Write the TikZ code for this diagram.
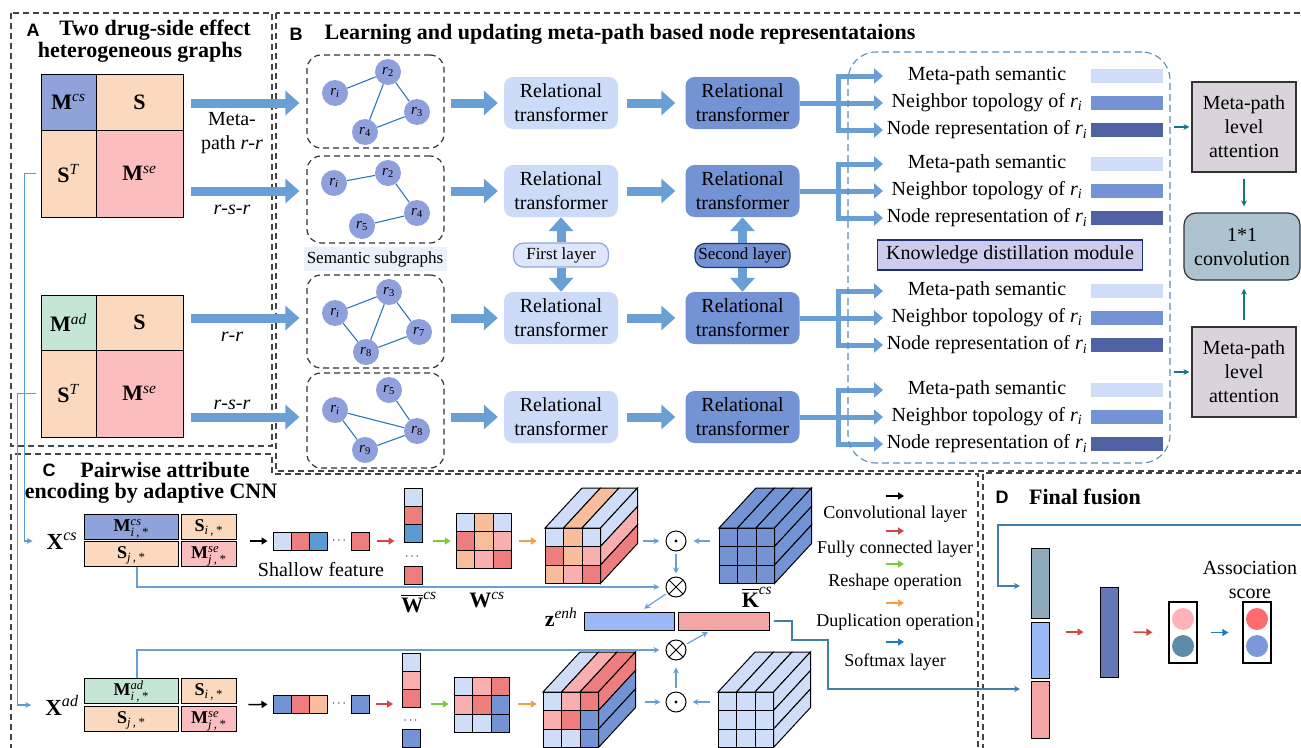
\documentclass[tikz,border=0pt]{standalone}
\usepackage{fontspec}
\setmainfont{Liberation Serif}
\newfontfamily\panelfont{Liberation Sans}
\usepackage{amsmath}
\usetikzlibrary{positioning,arrows.meta,calc}
\definecolor{panel}{HTML}{444444}
\definecolor{arrblue}{HTML}{6A9FD6}
\definecolor{tlight}{HTML}{CCDCF8}
\definecolor{tdark}{HTML}{7393D4}
\definecolor{nodeblue}{HTML}{8FA0DC}
\definecolor{edgeblue}{HTML}{2E75C0}
\definecolor{mcs}{HTML}{8FA3DA}
\definecolor{peach}{HTML}{FAD9BE}
\definecolor{rose}{HTML}{FBBDBD}
\definecolor{mint}{HTML}{C5E6D4}
\definecolor{barlight}{HTML}{CFDDF8}
\definecolor{barmid}{HTML}{7393D4}
\definecolor{bardark}{HTML}{4F61A3}
\definecolor{kdfill}{HTML}{CCCCEE}
\definecolor{kdline}{HTML}{1F2F6F}
\definecolor{attfill}{HTML}{DAD3DC}
\definecolor{convfill}{HTML}{AEC3D0}
\definecolor{tealarr}{HTML}{1A7384}
\definecolor{kdash}{HTML}{5B8DB8}
\definecolor{clb}{HTML}{CFDDF8}
\definecolor{cpe}{HTML}{F8BE9C}
\definecolor{cre}{HTML}{EE7E7E}
\definecolor{cpi}{HTML}{F9AFAF}
\definecolor{cbl}{HTML}{7393D4}
\definecolor{cmb}{HTML}{5B9BD5}
\definecolor{zblue}{HTML}{9BB7F5}
\definecolor{zred}{HTML}{F4A5A5}
\definecolor{fgray}{HTML}{8FAABB}
\definecolor{fdark}{HTML}{6677B8}
\definecolor{dpink}{HTML}{FFB3B8}
\definecolor{dteal}{HTML}{5E8CA8}
\definecolor{dred}{HTML}{FF6B6E}
\definecolor{dblue}{HTML}{7B98DA}
\definecolor{steel}{HTML}{3F7FA8}
\definecolor{linkblue}{HTML}{5B9BD5}
\definecolor{fcred}{HTML}{D64545}
\definecolor{rsgreen}{HTML}{7CCB3A}
\definecolor{duporange}{HTML}{F59D4C}
\definecolor{smblue}{HTML}{1E7BC8}
\definecolor{semfill}{HTML}{EAF1FB}
\definecolor{flfill}{HTML}{DDE6FA}
\definecolor{flline}{HTML}{8FA8DE}
\definecolor{slline}{HTML}{1F3864}
\newcommand{\fbody}{\fontsize{20}{24}\selectfont}
\newcommand{\ftitle}{\fontsize{22}{26}\selectfont\bfseries}
\newcommand{\fleg}{\fontsize{18}{20}\selectfont}
\newcommand{\fsmall}{\fontsize{17}{19}\selectfont}
\newcommand{\fletter}{\panelfont\fontsize{18}{20}\selectfont\bfseries}
\newcommand{\fnode}{\fontsize{15}{15}\selectfont}
\newcommand{\fmat}{\fontsize{22}{24}\selectfont}
\newcommand{\fblk}{\fontsize{18}{20}\selectfont}
\newcommand{\rsub}[1]{\textit{r}\textsubscript{#1}}
\newcommand{\gridnine}[3]{%
  \foreach \cc [count=\k from 0] in {#3}{%
    \pgfmathtruncatemacro\ridx{\k/3}%
    \pgfmathtruncatemacro\cidx{\k-3*\ridx}%
    \filldraw[fill=\cc,draw=black,line width=1pt] ({#1+\cidx*18.5},{#2+\ridx*18.5}) rectangle ++(18.5,18.5);}}
\newcommand{\cubeat}[5]{%
  \gridnine{#1}{#2}{#3}%
  \foreach \cc [count=\k from 0] in {#4}{%
    \filldraw[fill=\cc,draw=black,line width=1pt] ({#1+\k*18.5},#2) -- ++(18.5,0) -- ++(37,-40) -- ++(-18.5,0) -- cycle;}%
  \foreach \cc [count=\k from 0] in {#5}{%
    \filldraw[fill=\cc,draw=black,line width=1pt] ({#1+55.5},{#2+\k*18.5}) -- ++(0,18.5) -- ++(37,-40) -- ++(0,-18.5) -- cycle;}}

\begin{document}
\begin{tikzpicture}[x=1pt,y=-1pt,
  panelbox/.style={draw=panel,line width=1.2pt,dash pattern=on 6pt off 4pt},
  plet/.style={font=\fletter,inner sep=0pt},
  ptitle/.style={font=\ftitle,inner sep=0pt},
  lab/.style={font=\fbody,inner sep=0pt,align=center},
  mcell/.style={draw=black,line width=1pt,inner sep=0pt,font=\fmat},
  fat/.style={draw=arrblue,line width=9pt,-{Triangle[length=14pt,width=24pt]}},
  trunk/.style={draw=arrblue,line width=5pt},
  branch/.style={draw=arrblue,line width=5pt,-{Triangle[length=9pt,width=15pt]}},
  subbox/.style={draw=black!80,line width=1.2pt,dash pattern=on 6pt off 4pt,rounded corners=14pt,inner sep=0pt},
  rn/.style={circle,fill=nodeblue,minimum size=26pt,inner sep=0pt,font=\fnode},
  gedge/.style={draw=edgeblue,line width=1.1pt},
  rtA/.style={rounded corners=9pt,fill=tlight,minimum width=114pt,minimum height=52pt,align=center,font=\fbody,inner sep=0pt},
  rtB/.style={rtA,fill=tdark},
  flbox/.style={draw=flline,fill=flfill,line width=1.2pt,rounded corners=10pt,minimum width=95pt,minimum height=24pt,inner sep=0pt,font=\fsmall},
  slbox/.style={flbox,draw=slline,fill=tdark},
  semlab/.style={fill=semfill,minimum width=143pt,minimum height=24pt,inner sep=0pt,font=\fsmall},
  bar/.style={minimum width=72pt,minimum height=14pt,inner sep=0pt},
  kdbox/.style={draw=kdash,line width=1.1pt,dash pattern=on 7pt off 4pt,rounded corners=28pt,inner sep=0pt},
  kdm/.style={draw=kdline,fill=kdfill,line width=1.4pt,minimum width=265pt,minimum height=30pt,inner sep=0pt,font=\fbody},
  attbox/.style={draw=black!80,fill=attfill,line width=1.2pt,minimum width=104pt,minimum height=90pt,align=center,inner sep=0pt,font=\fbody},
  convbox/.style={attbox,fill=convfill,rounded corners=12pt,minimum width=116pt,minimum height=67pt},
  tarr/.style={draw=tealarr,line width=1.3pt,-{Stealth[length=6pt,width=6pt]}},
  link/.style={draw=linkblue,line width=1.2pt,-{Stealth[length=6pt,width=6pt]}},
  bcell/.style={draw=black,line width=1pt,inner sep=0pt,minimum height=25pt,text height=12pt,text depth=2pt,font=\fblk},
  xl/.style={inner sep=0pt,font=\fontsize{23}{24}\selectfont},
  wl/.style={inner sep=0pt,font=\fontsize{22}{24}\selectfont},
  sq/.style={draw=black,line width=1pt,minimum size=18pt,inner sep=0pt},
  dots/.style={inner sep=0pt,font=\fontsize{12}{12}\selectfont},
  gridbox/.style={minimum size=55.5pt,inner sep=0pt},
  zbar/.style={draw=black,line width=1pt,minimum height=18pt,inner sep=0pt},
  karr/.style={draw=black,line width=1.5pt,-{Triangle[length=6pt,width=7pt]}},
  rarr/.style={karr,draw=fcred,fill=fcred},
  garr/.style={karr,draw=rsgreen,fill=rsgreen},
  oarr/.style={karr,draw=duporange,fill=duporange},
  barr/.style={karr,draw=smblue,fill=smblue},
  sarr/.style={draw=arrblue,line width=1.2pt,-{Stealth[length=6pt,width=6pt]}},
  odot/.style={circle,draw=black,line width=1pt,minimum size=20pt,inner sep=0pt,
    path picture={\fill (path picture bounding box.center) circle (1.7pt);}},
  otimes/.style={circle,draw=black,line width=1pt,minimum size=20pt,inner sep=0pt,
    path picture={\draw[line width=1pt] (path picture bounding box.north west) -- (path picture bounding box.south east)
      (path picture bounding box.north east) -- (path picture bounding box.south west);}},
  fline/.style={draw=steel,line width=1.3pt,-{Stealth[length=6pt,width=6pt]}},
  fcol/.style={draw=black,line width=1pt,minimum width=18pt,inner sep=0pt},
  sbox/.style={draw=black,line width=1.2pt,minimum width=28pt,minimum height=61pt,inner sep=0pt},
  dot/.style={circle,minimum size=22pt,inner sep=0pt}
]
\useasboundingbox (0,0) rectangle (1301,747);
\clip (0,0) rectangle (1301,747);

\draw[panelbox] (11,13) rectangle (272,446);
\draw[panelbox] (276,13) rectangle (1320,471);
\draw[panelbox] (11,760) -- (11,454) -- (272,454) -- (272,474) -- (978,474) -- (978,760);
\draw[panelbox] (983,760) -- (983,473) -- (1320,473);

\node[plet] (lA) at (33,30) {A};
\node[ptitle] (tA1) at (155,30) {Two drug-side effect};
\node[ptitle] (tA2) at (140,52) {heterogeneous graphs};
\node[mcell,fill=mcs,minimum width=55pt,minimum height=56pt] (mc1) at (68.5,102) {\textbf{M}\textsuperscript{\textit{cs}}};
\node[mcell,fill=peach,minimum width=87pt,minimum height=56pt] (sa1) at (139.5,102) {\textbf{S}};
\node[mcell,fill=peach,minimum width=55pt,minimum height=87pt] (st1) at (68.5,173.5) {\textbf{S}\textsuperscript{\textit{T}}};
\node[mcell,fill=rose,minimum width=87pt,minimum height=87pt] (se1) at (139.5,173.5) {\textbf{M}\textsuperscript{\textit{se}}};
\node[mcell,fill=mint,minimum width=55pt,minimum height=55pt] (mc2) at (68.5,322.5) {\textbf{M}\textsuperscript{\textit{ad}}};
\node[mcell,fill=peach,minimum width=87pt,minimum height=55pt] (sa2) at (139.5,322.5) {\textbf{S}};
\node[mcell,fill=peach,minimum width=55pt,minimum height=87pt] (st2) at (68.5,393.5) {\textbf{S}\textsuperscript{\textit{T}}};
\node[mcell,fill=rose,minimum width=87pt,minimum height=87pt] (se2) at (139.5,393.5) {\textbf{M}\textsuperscript{\textit{se}}};
\node[lab] (lm1) at (232,133) {Meta-\\path \textit{r}-\textit{r}};
\node[lab] (lm2) at (232,210) {\textit{r}-\textit{s}-\textit{r}};
\node[lab] (lm3) at (232,337) {\textit{r}-\textit{r}};
\node[lab] (lm4) at (232,405) {\textit{r}-\textit{s}-\textit{r}};

\node[plet] (lB) at (296,34) {B};
\node[ptitle] (tB) at (620,34) {Learning and updating meta-path based node representataions};
\node[subbox,minimum width=137pt,minimum height=93pt] (sg1) at (375.5,101.5) {};
\node[subbox,minimum width=137pt,minimum height=87pt] (sg2) at (375.5,199.5) {};
\node[subbox,minimum width=137pt,minimum height=93pt] (sg3) at (375.5,321.5) {};
\node[subbox,minimum width=137pt,minimum height=95pt] (sg4) at (375.5,420.5) {};
\node[rn] (g1i) at (335,93) {\rsub{\textit{i}}};
\node[rn] (g12) at (388,72) {\rsub{2}};
\node[rn] (g13) at (417,112) {\rsub{3}};
\node[rn] (g14) at (365,132) {\rsub{4}};
\draw[gedge] (g1i) -- (g12) (g12) -- (g14) (g12) -- (g13) (g14) -- (g13);
\node[rn] (g2i) at (334,183) {\rsub{\textit{i}}};
\node[rn] (g22) at (388,173) {\rsub{2}};
\node[rn] (g24) at (417,213) {\rsub{4}};
\node[rn] (g25) at (362,226) {\rsub{5}};
\draw[gedge] (g2i) -- (g22) (g22) -- (g24) (g25) -- (g24);
\node[semlab] (sem) at (375,259) {Semantic subgraphs};
\node[rn] (g3i) at (335,313) {\rsub{\textit{i}}};
\node[rn] (g33) at (389,292) {\rsub{3}};
\node[rn] (g37) at (419,332) {\rsub{7}};
\node[rn] (g38) at (366,352) {\rsub{8}};
\draw[gedge] (g3i) -- (g33) (g3i) -- (g38) (g33) -- (g38) (g33) -- (g37) (g38) -- (g37);
\node[rn] (g4i) at (335,410) {\rsub{\textit{i}}};
\node[rn] (g45) at (389,390) {\rsub{5}};
\node[rn] (g48) at (417,431) {\rsub{8}};
\node[rn] (g49) at (365,450) {\rsub{9}};
\draw[gedge] (g4i) -- (g48) (g4i) -- (g49) (g45) -- (g48) (g49) -- (g48);

\foreach \i/\g in {1/103,2/191,3/318,4/417}{
  \node[rtA] (ta\i) at (561,\g) {Relational\\transformer};
  \node[rtB] (tb\i) at (742.5,\g) {Relational\\transformer};
  \draw[fat,shorten <=6pt,shorten >=6pt] (sg\i.east |- ta\i) -- (ta\i);
  \draw[fat,shorten <=9pt,shorten >=10pt] (ta\i) -- (tb\i);
  \coordinate (jn\i) at (838,\g);
  \coordinate (ea\i) at (883,\g-27);
  \coordinate (eb\i) at (883,\g);
  \coordinate (ec\i) at (883,\g+27);
  \draw[trunk] (tb\i) -- (jn\i);
  \draw[branch] (jn\i) |- (ea\i);
  \draw[branch] (jn\i) -- (eb\i);
  \draw[branch] (jn\i) |- (ec\i);
  \node[lab] (xa\i) at (987,\g-27) {Meta-path semantic};
  \node[lab] (xb\i) at (987,\g) {Neighbor topology of \rsub{\textit{i}}};
  \node[lab] (xc\i) at (987,\g+27) {Node representation of \rsub{\textit{i}}};
  \node[bar,fill=barlight] (ba\i) at (1127,\g-27) {};
  \node[bar,fill=barmid] (bb\i) at (1127,\g) {};
  \node[bar,fill=bardark] (bc\i) at (1127,\g+27) {};
}
\draw[fat,shorten <=7pt,shorten >=7pt] (sa1.east |- ta1) -- (sg1.west |- ta1);
\draw[fat,shorten <=7pt,shorten >=7pt] (se1.east |- ta2) -- (sg2.west |- ta2);
\draw[fat,shorten <=7pt,shorten >=7pt] (sa2.east |- ta3) -- (sg3.west |- ta3);
\draw[fat,shorten <=7pt,shorten >=7pt] (se2.east |- ta4) -- (sg4.west |- ta4);
\node[flbox] (fl) at (561,255) {First layer};
\node[slbox] (sl) at (742.5,255.5) {Second layer};
\draw[fat] (fl) -- (ta2);
\draw[fat] (fl) -- (ta3);
\draw[fat] (sl) -- (tb2);
\draw[fat] (sl) -- (tb3);
\node[kdbox,minimum width=322pt,minimum height=411pt] (kd) at (1009,257.5) {};
\node[kdm] (kdm) at (1010,255) {Knowledge distillation module};
\node[attbox] (att1) at (1244,127) {Meta-path\\level\\attention};
\node[attbox] (att2) at (1244,372) {Meta-path\\level\\attention};
\node[convbox] (cv) at (1242,246.5) {1*1\\convolution};
\draw[tarr,shorten <=3pt,shorten >=2pt] (kd.east |- att1) -- (att1);
\draw[tarr,shorten <=3pt,shorten >=2pt] (kd.east |- att2) -- (att2);
\draw[tarr,shorten <=6pt,shorten >=6pt] (att1) -- (att1.south |- cv.north);
\draw[tarr,shorten <=6pt,shorten >=8pt] (att2) -- (att2.north |- cv.south);

\node[plet] (lC) at (49,470) {C};
\node[ptitle] (tC1) at (165,470) {Pairwise attribute};
\node[ptitle] (tC2) at (151,493) {encoding by adaptive CNN};
\node[xl] (xcs) at (62,541) {\textbf{X}\textsuperscript{\textit{cs}}};
\node[bcell,fill=mcs,minimum width=94pt] (mc3) at (131,526.5) {\textbf{M}$^{\textit{cs}}_{\textit{i\,,\,*}}$};
\node[bcell,fill=peach,minimum width=55pt] (si1) at (208.5,526.5) {\textbf{S}$_{\textit{i\,,\,*}}$};
\node[bcell,fill=peach,minimum width=94pt] (sj1) at (131,553.5) {\textbf{S}$_{\textit{j\,,\,*}}$};
\node[bcell,fill=rose,minimum width=55pt] (ms1) at (208.5,553.5) {\textbf{M}$^{\textit{se}}_{\textit{j\,,\,*}}$};
\draw[link,shorten >=14pt] ([xshift=-5pt]st1.west) -- ++(-11,0) |- (xcs);
\node[sq,fill=clb] (s1a) at (282,541) {};
\node[sq,fill=cre] (s1b) at (300,541) {};
\node[sq,fill=cmb] (s1c) at (318,541) {};
\node[dots] (d1) at (340,541) {$\cdots$};
\node[sq,fill=cre] (s1d) at (360,541) {};
\node[lab] (shf) at (321,570) {Shallow feature};
\draw[karr,shorten <=13pt,shorten >=5pt] (ms1.east |- xcs) -- (s1a);
\node[sq,fill=clb] (w1a) at (413,497) {};
\node[sq,fill=cre] (w1b) at (413,515) {};
\node[sq,fill=cmb] (w1c) at (413,533) {};
\node[dots] (d1b) at (413,557) {$\cdots$};
\node[sq,fill=cre] (w1d) at (413,575) {};
\node[wl] (wb1) at (419,603) {$\overline{\text{\textbf{W}}}^{\textit{cs}}$};
\draw[rarr,shorten <=7pt,shorten >=9pt] (s1d) -- (s1d -| w1c.west);
\node[gridbox] (wg1) at (483.75,540.75) {};
\gridnine{456}{513}{clb,cpe,clb,cre,cpe,cpi,cpe,cpi,cre}
\node[wl] (wl1) at (487,600) {\textbf{W}\textsuperscript{\textit{cs}}};
\draw[garr,shorten <=10pt,shorten >=5pt] (w1c.east |- s1d) -- (s1d -| wg1.west);
\node[gridbox] (cb1) at (572.75,555.75) {};
\cubeat{545}{528}{clb,cpe,clb,cre,cpe,cpi,cpe,cpi,cre}{clb,cpe,clb}{clb,cpi,cre}
\draw[oarr,shorten <=7pt,shorten >=8pt] (wg1.east |- s1d) -- (s1d -| cb1.west);
\node[odot] (od1) at (676,541) {};
\node[otimes] (ot1) at (676,587) {};
\node[gridbox] (kb1) at (746.75,555.75) {};
\cubeat{719}{528}{cbl,cbl,cbl,cbl,cbl,cbl,cbl,cbl,cbl}{cbl,cbl,cbl}{cbl,cbl,cbl}
\node[wl] (kl1) at (757,597) {$\overline{\text{\textbf{K}}}^{\textit{cs}}$};
\draw[sarr,shorten <=42pt,shorten >=6pt] (cb1.east |- od1) -- (od1);
\draw[sarr,shorten <=9pt,shorten >=7pt] (kb1.west |- od1) -- (od1);
\draw[sarr,shorten <=2pt,shorten >=3pt] (od1) -- (ot1);
\draw[sarr,shorten >=6pt] ([xshift=6pt]sj1.south) |- (ot1);
\node[zbar,fill=zblue,minimum width=90pt] (zb) at (629,621) {};
\node[zbar,fill=zred,minimum width=91pt] (zr) at (723.5,621) {};
\node[wl] (zl) at (561,617) {\textbf{z}\textsuperscript{\textit{enh}}};
\draw[sarr,shorten <=2pt,shorten >=5pt] (ot1) -- ([xshift=11pt]zb.north);

\node[xl] (xad) at (62,705) {\textbf{X}\textsuperscript{\textit{ad}}};
\node[bcell,fill=mint,minimum width=94pt] (ma2) at (131,690.5) {\textbf{M}$^{\textit{ad}}_{\textit{i\,,\,*}}$};
\node[bcell,fill=peach,minimum width=55pt] (si2) at (208.5,690.5) {\textbf{S}$_{\textit{i\,,\,*}}$};
\node[bcell,fill=peach,minimum width=94pt] (sj2) at (131,718.5) {\textbf{S}$_{\textit{j\,,\,*}}$};
\node[bcell,fill=rose,minimum width=55pt] (ms2) at (208.5,718.5) {\textbf{M}$^{\textit{se}}_{\textit{j\,,\,*}}$};
\draw[link,shorten >=14pt] ([xshift=-5pt]st2.west) -- ++(-18,0) |- (xad);
\node[sq,fill=cbl] (s2a) at (282,704) {};
\node[sq,fill=cre] (s2b) at (300,704) {};
\node[sq,fill=cpe] (s2c) at (318,704) {};
\node[dots] (d2) at (340,704) {$\cdots$};
\node[sq,fill=cbl] (s2d) at (360,704) {};
\draw[karr,shorten <=12pt,shorten >=5pt] (ms2.east |- xad) -- (s2a);
\node[sq,fill=clb] (w2a) at (411.5,662) {};
\node[sq,fill=cpi] (w2b) at (411.5,680) {};
\node[sq,fill=cre] (w2c) at (411.5,698) {};
\node[dots] (d2b) at (411.5,721) {$\cdots$};
\node[sq,fill=cbl] (w2d) at (411.5,738) {};
\draw[rarr,shorten <=6pt,shorten >=9pt] (s2d) -- (s2d -| w2c.west);
\node[gridbox] (wg2) at (481.75,704.75) {};
\gridnine{454}{677}{clb,cpi,cre,cpi,cre,cbl,clb,clb,cbl}
\draw[garr,shorten <=10pt,shorten >=5pt] (w2c.east |- s2d) -- (s2d -| wg2.west);
\node[gridbox] (cb2) at (570.75,719.75) {};
\cubeat{543}{692}{clb,cpi,cre,cpi,cre,cbl,clb,clb,cbl}{clb,cpi,cre}{cre,cbl,cbl}
\draw[oarr,shorten <=8pt,shorten >=6pt] (wg2.east |- s2d) -- (s2d -| cb2.west);
\node[odot] (od2) at (676,702) {};
\node[otimes] (ot2) at (676,650) {};
\node[gridbox] (kb2) at (745.75,719.75) {};
\cubeat{718}{692}{clb,clb,clb,clb,clb,clb,clb,clb,clb}{clb,clb,clb}{clb,clb,clb}
\draw[sarr,shorten <=46pt,shorten >=5pt] (cb2.east |- od2) -- (od2);
\draw[sarr,shorten <=8pt,shorten >=6pt] (kb2.west |- od2) -- (od2);
\draw[sarr,shorten <=4pt,shorten >=7pt] (od2) -- (ot2);
\draw[sarr,shorten >=6pt] ([xshift=6pt]ma2.north) |- (ot2);
\draw[sarr,shorten <=2pt,shorten >=3pt] (ot2) -- ([xshift=-13pt]zr.south);

\node[font=\fleg,inner sep=0pt] (lg1) at (895,514) {Convolutional layer};
\node[font=\fleg,inner sep=0pt] (lg2) at (895,549) {Fully connected layer};
\node[font=\fleg,inner sep=0pt] (lg3) at (895,582) {Reshape operation};
\node[font=\fleg,inner sep=0pt] (lg4) at (895,622) {Duplication operation};
\node[font=\fleg,inner sep=0pt] (lg5) at (895,662) {Softmax layer};
\draw[karr] ([xshift=-9pt,yshift=18pt]lg1.center) -- ++(18,0);
\draw[rarr] ([xshift=-9pt,yshift=18pt]lg2.center) -- ++(18,0);
\draw[garr] ([xshift=-9pt,yshift=18pt]lg3.center) -- ++(18,0);
\draw[oarr] ([xshift=-9pt,yshift=19pt]lg4.center) -- ++(18,0);
\draw[barr] ([xshift=-9pt,yshift=20pt]lg5.center) -- ++(18,0);

\node[plet] (lD) at (1002,497) {D};
\node[ptitle] (tD) at (1085,497) {Final fusion};
\node[fcol,fill=fgray,minimum height=70pt] (fb1) at (1040,583) {};
\node[fcol,fill=zblue,minimum height=56pt] (fb2) at (1040,650) {};
\node[fcol,fill=zred,minimum height=57pt] (fb3) at (1040,709.5) {};
\node[fcol,fill=fdark,minimum height=90pt] (fd) at (1109,632) {};
\node[sbox] (pb1) at (1183,632.5) {};
\node[dot,fill=dpink] (p1a) at (1183,619) {};
\node[dot,fill=dteal] (p1b) at (1183,646) {};
\node[sbox] (pb2) at (1257,632.5) {};
\node[dot,fill=dred] (p2a) at (1257,619) {};
\node[dot,fill=dblue] (p2b) at (1257,646) {};
\node[lab] (asc) at (1250,580) {Association\\score};
\draw[rarr,shorten <=16pt,shorten >=16pt] (fb2.east |- fd) -- (fd);
\draw[rarr,shorten <=15pt,shorten >=16pt] (fd) -- (pb1);
\draw[barr,shorten <=13pt,shorten >=14pt] (pb1) -- (pb2);
\coordinate (dTop) at (1305,525);
\coordinate (dIn1) at (1020,586);
\coordinate (dIn2) at (1020,689);
\draw[fline] (dTop) -- (998,525) |- (dIn1);
\draw[fline] ([xshift=4pt]zr.east) -| (792,640) -| (828,689) -- (dIn2);
\end{tikzpicture}
\end{document}
